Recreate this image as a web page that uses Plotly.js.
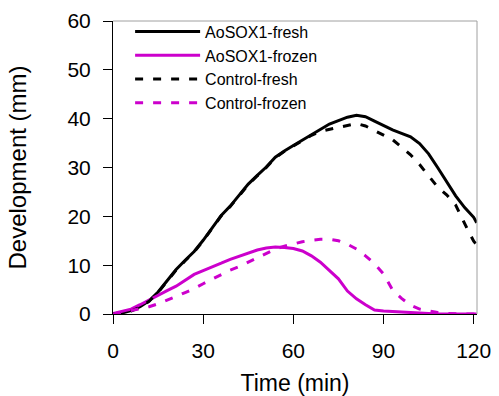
<!DOCTYPE html>
<html>
<head>
<meta charset="utf-8">
<script src="https://cdn.plot.ly/plotly-3.0.1.min.js"></script>
<style>html,body{margin:0;padding:0;background:#fff;}#chart{width:499px;height:396px;}</style>
</head>
<body>
<div id="chart"></div>
<script>
const timeMin = [0,3,6,9,12,15,18,21,24,27,30,33,36,39,42,45,48,51,54,57,60,63,66,69,72,75,78,81,84,87,90,93,96,99,102,105,108,111,114,117,120,121];
const aosoxFresh = [0,0.2,0.7,1.5,2.7,4.5,6.8,9.1,11.0,12.8,15.1,17.7,20.2,22.1,24.4,26.6,28.4,30.1,32.1,33.4,34.5,35.6,36.8,37.9,38.9,39.6,40.3,40.7,40.4,39.5,38.6,37.7,37.0,36.3,34.9,32.8,30.0,27.2,24.2,21.8,19.8,18.7];
const aosoxFrozen = [0.1,0.5,1.0,1.9,2.9,3.8,4.8,5.7,6.9,8.1,8.9,9.6,10.4,11.2,11.8,12.5,13.1,13.5,13.7,13.6,13.4,12.9,11.9,10.6,8.9,7.2,4.7,3.1,1.9,0.8,0.6,0.5,0.4,0.2,0.1,0.1,0,0,0,0,0,0];
const controlFresh = [0,0.1,0.6,1.4,2.6,4.4,6.7,9.0,10.9,12.7,15.0,17.6,20.1,22.0,24.3,26.5,28.3,30.0,32.0,33.3,34.4,35.5,36.6,37.4,37.8,38.2,38.7,39.0,38.5,37.6,36.6,35.7,34.2,32.6,30.6,28.4,26.0,24.4,22.3,18.5,14.9,14.2];
const controlFrozen = [0,0.3,0.7,1.1,1.5,2.1,2.8,3.6,4.4,5.2,6.2,7.1,8.0,9.0,9.7,10.6,11.5,12.5,13.3,13.9,14.4,14.8,15.1,15.3,15.3,15.0,14.3,13.3,11.9,10.3,8.2,4.9,3.2,1.8,1.0,0.6,0.3,0.1,0,0,0,0];
const seriesNames = ["AoSOX1-fresh","AoSOX1-frozen","Control-fresh","Control-frozen"];
const xTicks = [0,30,60,90,120];
const yTicks = [0,10,20,30,40,50,60];

const black = "#000000", magenta = "#CC00CC";
const dash = "8px,10px";
const traces = [
  {x: timeMin, y: aosoxFresh, name: seriesNames[0], line: {color: black, width: 3}},
  {x: timeMin, y: aosoxFrozen, name: seriesNames[1], line: {color: magenta, width: 3}},
  {x: timeMin, y: controlFresh, name: seriesNames[2], line: {color: black, width: 3, dash: dash}},
  {x: timeMin, y: controlFrozen, name: seriesNames[3], line: {color: magenta, width: 3, dash: dash}}
].map(t => Object.assign({type: "scatter", mode: "lines"}, t));

const font = "Liberation Sans, Arial, sans-serif";
const layout = {
  width: 499, height: 396,
  margin: {l: 113, r: 22, t: 21, b: 82},
  paper_bgcolor: "#fff", plot_bgcolor: "#fff",
  font: {family: font, color: "#000"},
  showlegend: true,
  legend: {x: 0.047, y: 1.022, xanchor: "left", yanchor: "top", bgcolor: "rgba(0,0,0,0)", borderwidth: 0,
           font: {family: font, size: 16, color: "#000"}, itemwidth: 65, tracegroupgap: 0},
  xaxis: {range: [0, 121.1], tickvals: xTicks, ticktext: xTicks.map(String), ticks: "outside", ticklen: 9,
          tickcolor: "#000", tickwidth: 1, showline: true, linecolor: "#000", linewidth: 1,
          showgrid: false, zeroline: false, tickfont: {size: 21, family: font}, ticklabelstandoff: 9,
          title: {text: "Time (min)", font: {size: 23, family: font}, standoff: 17}},
  yaxis: {range: [0, 60], tickvals: yTicks, ticktext: yTicks.map(String), ticks: "outside", ticklen: 9,
          tickcolor: "#000", tickwidth: 1, showline: true, linecolor: "#000", linewidth: 1,
          showgrid: false, zeroline: false, tickfont: {size: 21, family: font}, ticklabelstandoff: 8,
          title: {text: "Development (mm)", font: {size: 24, family: font}, standoff: 34}},
  shapes: [
    {type: "line", xref: "paper", yref: "paper", x0: 0, x1: 1, y0: 1, y1: 1, line: {color: "#A0A0A0", width: 1}},
    {type: "line", xref: "paper", yref: "paper", x0: 1, x1: 1, y0: 0, y1: 1, line: {color: "#A0A0A0", width: 1}}
  ]
};
Plotly.newPlot("chart", traces, layout, {displayModeBar: false, staticPlot: true});
</script>
</body>
</html>
